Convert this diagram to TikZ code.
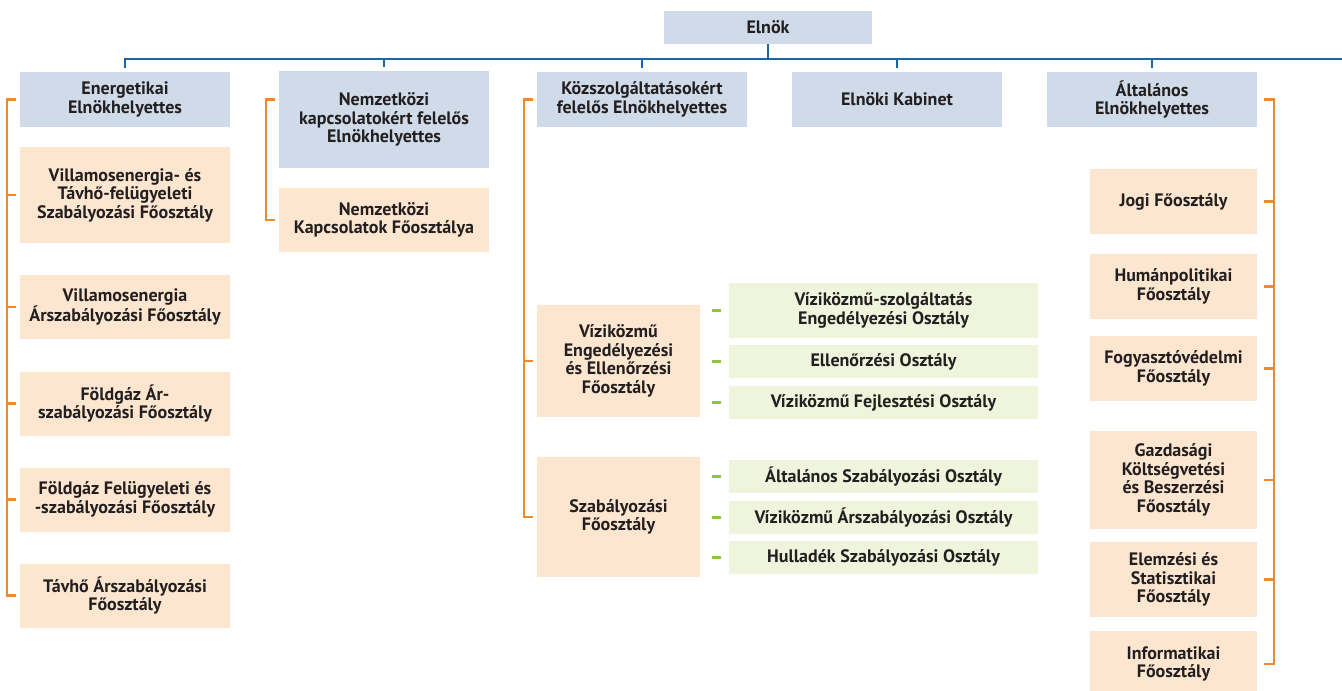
\documentclass[tikz,border=0pt]{standalone}
\usepackage{fontspec}
\setmainfont{PT Sans}
\usepackage{xcolor}
\usepackage{tikz}
\usetikzlibrary{positioning}

\definecolor{ink}{HTML}{231F20}
\definecolor{headblue}{HTML}{CFDBE8}
\definecolor{deptsand}{HTML}{FCE6CF}
\definecolor{unitgreen}{HTML}{EFF5DC}
\definecolor{treeblue}{HTML}{1C64A8}
\definecolor{brorange}{HTML}{EE8A2E}
\definecolor{tickgreen}{HTML}{8DC63F}
\newcommand{\orgfont}{\fontsize{18}{18.6}\selectfont\bfseries}

\begin{document}
\begin{tikzpicture}[
    x=1pt, y=-1pt,
    box/.style={rectangle, draw=none, inner sep=2pt, align=center, text=ink, font=\orgfont},
    headbox/.style={box, fill=headblue},
    deptbox/.style={box, fill=deptsand},
    unitbox/.style={box, fill=unitgreen, minimum width=309pt},
    tree/.style={draw=treeblue, line width=2.4pt},
    bracket/.style={draw=brorange, line width=2.4pt},
    dash tick/.style={draw=tickgreen, line width=2.8pt}
]
\useasboundingbox (0,0) rectangle (1342,691);

% President
\node[headbox, minimum width=208pt, minimum height=33pt] (elnok) at (768,27.5) {Elnök};

% Deputies
\node[headbox, minimum width=210pt, minimum height=55pt] (energ) at (125,99.5) {Energetikai\\Elnökhelyettes};
\node[headbox, minimum width=210pt, minimum height=97pt] (nemz) at (384,119.5) {Nemzetközi\\kapcsolatokért felelős\\Elnökhelyettes};
\node[headbox, minimum width=210pt, minimum height=55pt] (kozsz) at (642,99.5) {Közszolgáltatásokért\\felelős Elnökhelyettes};
\node[headbox, minimum width=210pt, minimum height=55pt] (kabinet) at (897,99.5) {Elnöki Kabinet};
\node[headbox, minimum width=210pt, minimum height=55pt] (altal) at (1152,99.5) {Általános\\Elnökhelyettes};

% Energetikai departments
\node[deptbox, minimum width=210pt, minimum height=96pt] (villtav) at (125,195) {Villamosenergia- és\\Távhő-felügyeleti\\Szabályozási Főosztály};
\node[deptbox, minimum width=210pt, minimum height=64pt] (villar) at (125,307) {Villamosenergia\\Árszabályozási Főosztály};
\node[deptbox, minimum width=210pt, minimum height=64pt] (foldar) at (125,403.5) {Földgáz Ár-\\szabályozási Főosztály};
\node[deptbox, minimum width=210pt, minimum height=64pt] (foldfel) at (125,499.5) {Földgáz Felügyeleti és\\-szabályozási Főosztály};
\node[deptbox, minimum width=210pt, minimum height=64pt] (tavho) at (125,595.5) {Távhő Árszabályozási\\Főosztály};

% Nemzetkozi department
\node[deptbox, minimum width=210pt, minimum height=64pt] (nemzkap) at (384,220) {Nemzetközi\\Kapcsolatok Főosztálya};

% Kozszolgaltatasi departments
\node[deptbox, minimum width=163pt, minimum height=112pt] (vizi) at (618.5,361) {Víziközmű\\Engedélyezési\\és Ellenőrzési\\Főosztály};
\node[deptbox, minimum width=163pt, minimum height=120pt] (szab) at (618.5,517) {Szabályozási\\Főosztály};

% Units
\node[unitbox, minimum height=55pt] (vizszolg) at (883.5,310.5) {Víziközmű-szolgáltatás\\Engedélyezési Osztály};
\node[unitbox, minimum height=33pt] (ellen) at (883.5,361.5) {Ellenőrzési Osztály};
\node[unitbox, minimum height=33pt] (fejl) at (883.5,402.5) {Víziközmű Fejlesztési Osztály};
\node[unitbox, minimum height=33pt] (altszab) at (883.5,476.5) {Általános Szabályozási Osztály};
\node[unitbox, minimum height=33pt] (vizar) at (883.5,517.5) {Víziközmű Árszabályozási Osztály};
\node[unitbox, minimum height=33pt] (hull) at (883.5,557.5) {Hulladék Szabályozási Osztály};

% Altalanos departments
\node[deptbox, minimum width=167pt, minimum height=65pt] (jogi) at (1173.5,201.5) {Jogi Főosztály};
\node[deptbox, minimum width=167pt, minimum height=65pt] (human) at (1173.5,286.5) {Humánpolitikai\\Főosztály};
\node[deptbox, minimum width=167pt, minimum height=65pt] (fogy) at (1173.5,368.5) {Fogyasztóvédelmi\\Főosztály};
\node[deptbox, minimum width=167pt, minimum height=98pt] (gazd) at (1173.5,480) {Gazdasági\\Költségvetési\\és Beszerzési\\Főosztály};
\node[deptbox, minimum width=167pt, minimum height=75pt] (elemz) at (1173.5,579.5) {Elemzési és\\Statisztikai\\Főosztály};
\node[deptbox, minimum width=167pt, minimum height=66pt] (info) at (1173.5,664) {Informatikai\\Főosztály};

% Blue tree
\coordinate (bus) at (768,59);
\coordinate (busend) at (1342,59);
\draw[tree] (elnok.south) -- (elnok.south |- bus);
\draw[tree] ([yshift=4pt]energ.north) -- (energ.north |- bus) -- (busend);
\foreach \n in {nemz,kozsz,kabinet,altal}
    \draw[tree] ([yshift=4pt]\n.north) -- (\n.north |- bus);

% Orange brackets
\coordinate (nemztop) at (nemz.west |- energ.west);
\foreach \c in {villtav,villar,foldar,foldfel,tavho}
    \draw[bracket] ([xshift=-4pt]energ.west) -- ++(-9,0) |- ([xshift=-4pt]\c.west);
\draw[bracket] ([xshift=-4pt]nemztop) -- ++(-9,0) |- ([xshift=-4pt]nemzkap.west);
\foreach \c in {vizi,szab}
    \draw[bracket] ([xshift=-4pt]kozsz.west) -- ++(-9,0) |- ([xshift=-4pt]\c.west);
\foreach \c in {jogi,human,fogy,gazd,elemz,info}
    \draw[bracket] ([xshift=7pt]altal.east) -- ++(10,0) |- ([xshift=7pt]\c.east);

% Green ticks
\foreach \u in {vizszolg,ellen,fejl,altszab,vizar,hull}
    \draw[dash tick] ([xshift=-17pt]\u.west) -- ([xshift=-8pt]\u.west);

\end{tikzpicture}
\end{document}
